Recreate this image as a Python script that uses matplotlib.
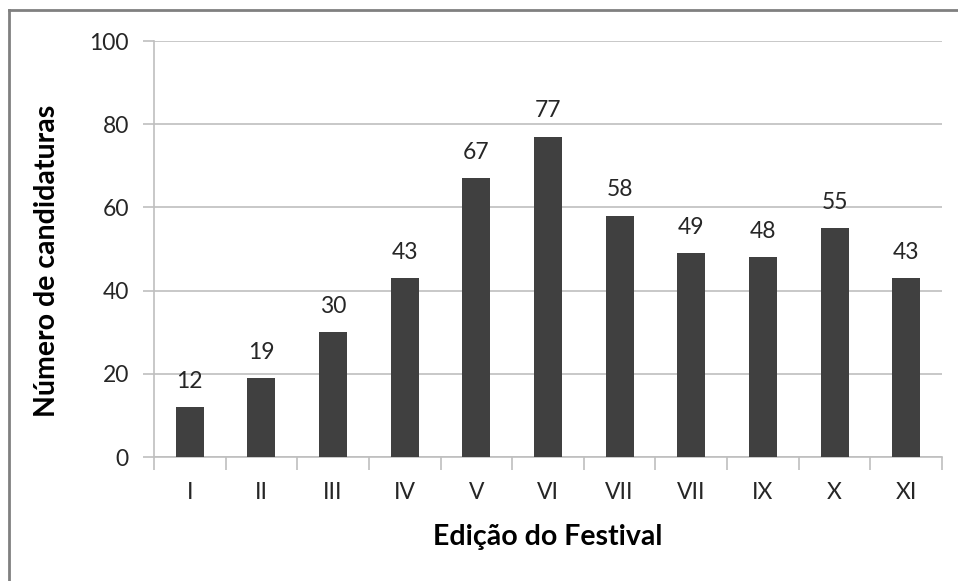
import matplotlib.pyplot as plt
from matplotlib.lines import Line2D

plt.rcParams['font.family'] = ['Lato', 'DejaVu Sans']

# data
editions = ['I', 'II', 'III', 'IV', 'V', 'VI', 'VII', 'VII', 'IX', 'X', 'XI']
candidaturas = [12, 19, 30, 43, 67, 77, 58, 49, 48, 55, 43]
yticks = [0, 20, 40, 60, 80, 100]

BAR = '#404040'
GRID = '#bfbfbf'
TEXT = '#262626'

fig = plt.figure(figsize=(9.58, 5.81), dpi=100)
ax = fig.add_axes([154 / 958, 1 - 457 / 581, (942 - 154) / 958, (457 - 41) / 581])

x = list(range(len(editions)))
ax.bar(x, candidaturas, width=0.39, color=BAR, zorder=3)
for xi, v in zip(x, candidaturas):
    ax.annotate(str(v), (xi, v), textcoords='offset points', xytext=(0, 11),
                ha='center', va='bottom', fontsize=16.5, color=TEXT)

ax.set_xlim(-0.5, len(editions) - 0.5)
ax.set_ylim(0, 100)
ax.set_yticks(yticks)
ax.grid(True, axis='y', color=GRID, linewidth=1.2, zorder=0)

# category boundaries get the ticks, centres get the labels
ax.set_xticks([i - 0.5 for i in range(len(editions) + 1)], minor=False)
ax.set_xticklabels([])
ax.set_xticks(x, minor=True)
ax.set_xticklabels(editions, minor=True)
ax.tick_params(axis='x', which='major', length=9, width=1.2, color=GRID, direction='out')
ax.tick_params(axis='x', which='minor', length=0, pad=18, labelsize=16.5, labelcolor=TEXT)
ax.tick_params(axis='y', length=8, width=1.2, color=GRID, pad=10, labelsize=16.5, labelcolor=TEXT)

for s in ['top', 'right']:
    ax.spines[s].set_visible(False)
for s in ['left', 'bottom']:
    ax.spines[s].set_color(GRID)
    ax.spines[s].set_linewidth(1.2)

ax.set_ylabel('Número de candidaturas', fontsize=20.5, fontweight='bold', color='black', va='center')
ax.yaxis.set_label_coords((47 - 154) / 788, (457 - 261) / 416)
ax.set_xlabel('Edição do Festival', fontsize=20.5, fontweight='bold', color='black', va='center')
ax.xaxis.set_label_coords((548 - 154) / 788, -(537 - 457) / 416)

# frame remnant of the cropped screenshot
fig.add_artist(Line2D([9 / 958, 1], [1 - 10 / 581, 1 - 10 / 581], color='#808080', linewidth=2))
fig.add_artist(Line2D([9 / 958, 9 / 958], [0, 1 - 10 / 581], color='#808080', linewidth=2))

fig.savefig('out.png', dpi=100)
